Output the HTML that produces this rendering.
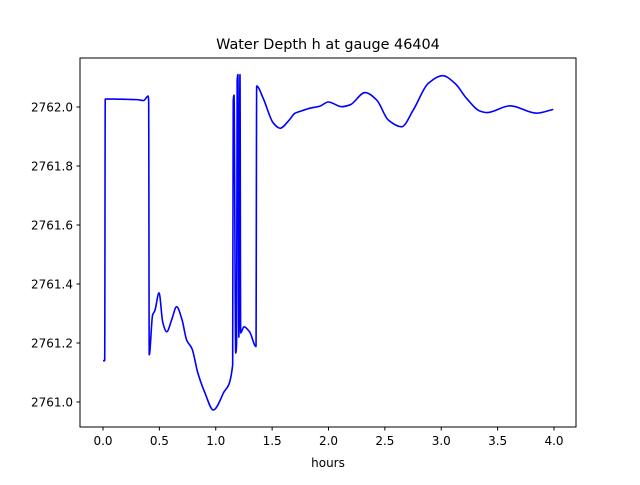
<!DOCTYPE html>
<html><head><meta charset="utf-8"><style>
body{margin:0;background:#fff;}
svg text{font-family:"DejaVu Sans","Liberation Sans",sans-serif;fill:#000;}
</style></head><body>
<svg id="chart" width="640" height="480" xmlns="http://www.w3.org/2000/svg">
<rect x="0" y="0" width="640" height="480" fill="#fff"/>
<text x="328" y="49" font-size="14.4" text-anchor="middle">Water Depth h at gauge 46404</text>
<g id="xticks"></g>
<g id="yticks"></g>
<path id="line" fill="none" stroke="#0000ff" stroke-width="1.6" stroke-linejoin="round"/>
<rect x="80" y="58" width="496" height="369" fill="none" stroke="#000" stroke-width="1"/>
<text x="328" y="467" font-size="12" text-anchor="middle">hours</text>
</svg>
<script>
const hours = [0.0,0.015,0.02,0.1,0.2,0.3,0.36,0.40,0.405,0.41,0.44,0.46,0.497,0.53,0.565,0.61,0.653,0.7,0.742,0.79,0.84,0.905,0.978,1.067,1.15,1.155,1.162,1.177,1.185,1.19,1.197,1.205,1.215,1.221,1.25,1.30,1.357,1.363,1.42,1.51,1.57,1.65,1.703,1.747,1.836,1.925,1.998,2.117,2.19,2.324,2.427,2.53,2.649,2.752,2.885,3.013,3.122,3.225,3.344,3.403,3.61,3.847,3.994];
const depth = [2761.14,2761.14,2762.027,2762.027,2762.026,2762.025,2762.022,2762.037,2762.02,2761.16,2761.295,2761.31,2761.37,2761.27,2761.238,2761.28,2761.323,2761.28,2761.21,2761.18,2761.10,2761.03,2760.973,2761.03,2761.125,2762.02,2762.04,2761.166,2761.20,2762.09,2762.11,2761.22,2762.11,2761.234,2761.255,2761.238,2761.188,2762.071,2762.03,2761.946,2761.928,2761.955,2761.979,2761.985,2761.996,2762.003,2762.017,2762.001,2762.007,2762.049,2762.024,2761.956,2761.933,2761.99,2762.08,2762.106,2762.08,2762.029,2761.986,2761.981,2762.004,2761.979,2761.992];
const xTickVals = [0.0,0.5,1.0,1.5,2.0,2.5,3.0,3.5,4.0];
const xTickLabels = ["0.0","0.5","1.0","1.5","2.0","2.5","3.0","3.5","4.0"];
const yTickVals = [2761.0,2761.2,2761.4,2761.6,2761.8,2762.0];
const yTickLabels = ["2761.0","2761.2","2761.4","2761.6","2761.8","2762.0"];

const X = t => 103 + t * 112.75;
const Y = v => 107 + (2762 - v) * 295;
const NS = "http://www.w3.org/2000/svg";
const xg = document.getElementById('xticks'), yg = document.getElementById('yticks');
xTickVals.forEach((t,i)=>{
  const l=document.createElementNS(NS,'line');
  
  
  l.setAttribute('x1',X(t));l.setAttribute('x2',X(t));l.setAttribute('y1',427);l.setAttribute('y2',430.5);l.setAttribute('stroke','#000');
  xg.appendChild(l);
  const tx=document.createElementNS(NS,'text');
  
  
  tx.setAttribute('x',X(t));tx.setAttribute('y',445);tx.setAttribute('font-size','12');tx.setAttribute('text-anchor','middle');
  tx.textContent=xTickLabels[i];xg.appendChild(tx);
});
yTickVals.forEach((v,i)=>{
  const l=document.createElementNS(NS,'line');
  
  
  l.setAttribute('x1',76.5);l.setAttribute('x2',80);l.setAttribute('y1',Y(v));l.setAttribute('y2',Y(v));l.setAttribute('stroke','#000');
  yg.appendChild(l);
  const tx=document.createElementNS(NS,'text');
  
  
  tx.setAttribute('x',73);tx.setAttribute('y',Y(v)+4.5);tx.setAttribute('font-size','12');tx.setAttribute('text-anchor','end');
  tx.textContent=yTickLabels[i];yg.appendChild(tx);
});
// monotone cubic (no overshoot at jumps)
const px = hours.map(X), py = depth.map(Y), n = px.length;
const d = [], m = [];
for (let i=0;i<n-1;i++) d.push((py[i+1]-py[i])/(px[i+1]-px[i]));
for (let i=0;i<n;i++){
  if(i===0) m.push(d[0]); else if(i===n-1) m.push(d[n-2]);
  else if(d[i-1]*d[i]<=0) m.push(0);
  else { const h0=px[i]-px[i-1], h1=px[i+1]-px[i];
    const w1=2*h1+h0, w2=h1+2*h0; m.push((w1+w2)/(w1/d[i-1]+w2/d[i])); }
}
let p = 'M'+px[0].toFixed(2)+','+py[0].toFixed(2);
for (let i=0;i<n-1;i++){
  const h=(px[i+1]-px[i])/3;
  p += ' C'+(px[i]+h).toFixed(2)+','+(py[i]+m[i]*h).toFixed(2)+' '+(px[i+1]-h).toFixed(2)+','+(py[i+1]-m[i+1]*h).toFixed(2)+' '+px[i+1].toFixed(2)+','+py[i+1].toFixed(2);
}
document.getElementById('line').setAttribute('d', p);
</script>
</body></html>
